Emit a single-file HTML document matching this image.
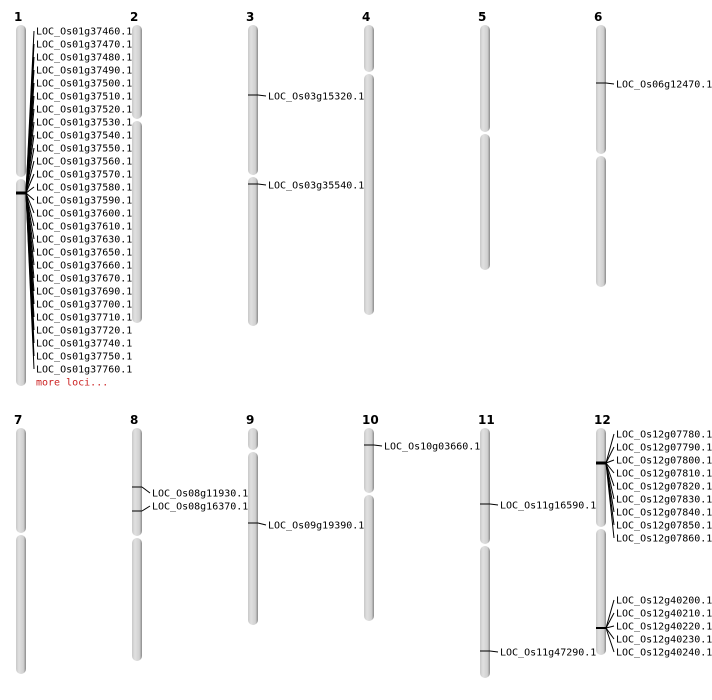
<!DOCTYPE html>
<html><head><meta charset="utf-8"><style>
html,body{margin:0;padding:0;background:#fff;width:712px;height:700px;overflow:hidden}
text{font-family:"DejaVu Sans Mono","Liberation Mono",monospace;font-size:10px;fill:#000}
.t{font-family:"DejaVu Sans","Liberation Sans",sans-serif;font-weight:bold;font-size:12px}
</style></head><body>
<svg id="s" width="712" height="700" xmlns="http://www.w3.org/2000/svg">
<defs><linearGradient id="g" x1="0" x2="1" y1="0" y2="0">
<stop offset="0" stop-color="#c8c8c8"/><stop offset="0.3" stop-color="#e0e0e0"/><stop offset="0.75" stop-color="#d0d0d0"/><stop offset="1" stop-color="#8a8a8a"/></linearGradient></defs>
</svg>
<script>
var s=document.getElementById('s'),NS='http://www.w3.org/2000/svg';
function el(t,a,txt){var e=document.createElementNS(NS,t);for(var k in a)e.setAttribute(k,a[k]);if(txt)e.textContent=txt;s.appendChild(e);return e;}
var chrs=[
[1,16,25,386,178],[2,132,25,323,120],[3,248,25,326,176],[4,364,25,315,73],[5,480,25,270,133],[6,596,25,287,155],
[7,16,428,674,534],[8,132,428,661,537],[9,248,428,625,451],[10,364,428,621,494],[11,480,428,678,545],[12,596,428,655,528]];
chrs.forEach(function(c){
 var x=c[1],t=c[2],b=c[3],m=c[4];
 el('rect',{x:x,y:t,width:10,height:m-t-1,rx:5,fill:'url(#g)'});
 el('rect',{x:x,y:m+1,width:10,height:b-m-1,rx:5,fill:'url(#g)'});
 el('text',{x:x-2,y:t-4,'class':'t'},String(c[0]));
});
function line(x1,y1,x2,y2,w){el('line',{x1:x1,y1:y1,x2:x2,y2:y2,stroke:'#000','stroke-width':w||1});}
// chr1 cluster
var l1=['37460','37470','37480','37490','37500','37510','37520','37530','37540','37550','37560','37570','37580','37590','37600','37610','37630','37650','37660','37670','37690','37700','37710','37720','37740','37750','37760'];
line(16,193,26,193,3);
l1.forEach(function(n,i){var y=31+13*i;line(26,193,34,y);el('text',{x:36,y:y+3.5},'LOC_Os01g'+n+'.1');});
el('text',{x:36,y:385.5,fill:'#cc2222',style:'fill:#cc2222'},'more loci...');
// single
function single(cx,y,ly,lab){line(cx,y,cx+10,y);line(cx+10,y,cx+18,ly);el('text',{x:cx+20,y:ly+3.5},lab);}
single(248,95,96,'LOC_Os03g15320.1');
single(248,184,185,'LOC_Os03g35540.1');
single(596,83,84,'LOC_Os06g12470.1');
single(132,487,493,'LOC_Os08g11930.1');
single(132,511,506,'LOC_Os08g16370.1');
single(248,523,525,'LOC_Os09g19390.1');
single(364,445,446,'LOC_Os10g03660.1');
single(480,504,505,'LOC_Os11g16590.1');
single(480,651,652,'LOC_Os11g47290.1');
// chr12 clusters
line(596,463,606,463,3);
['07780','07790','07800','07810','07820','07830','07840','07850','07860'].forEach(function(n,i){var y=434+13*i;line(606,463,614,y);el('text',{x:616,y:y+3.5},'LOC_Os12g'+n+'.1');});
line(596,628,606,628,2);
['40200','40210','40220','40230','40240'].forEach(function(n,i){var y=600+13*i;line(606,628,614,y);el('text',{x:616,y:y+3.5},'LOC_Os12g'+n+'.1');});
</script>
</body></html>
